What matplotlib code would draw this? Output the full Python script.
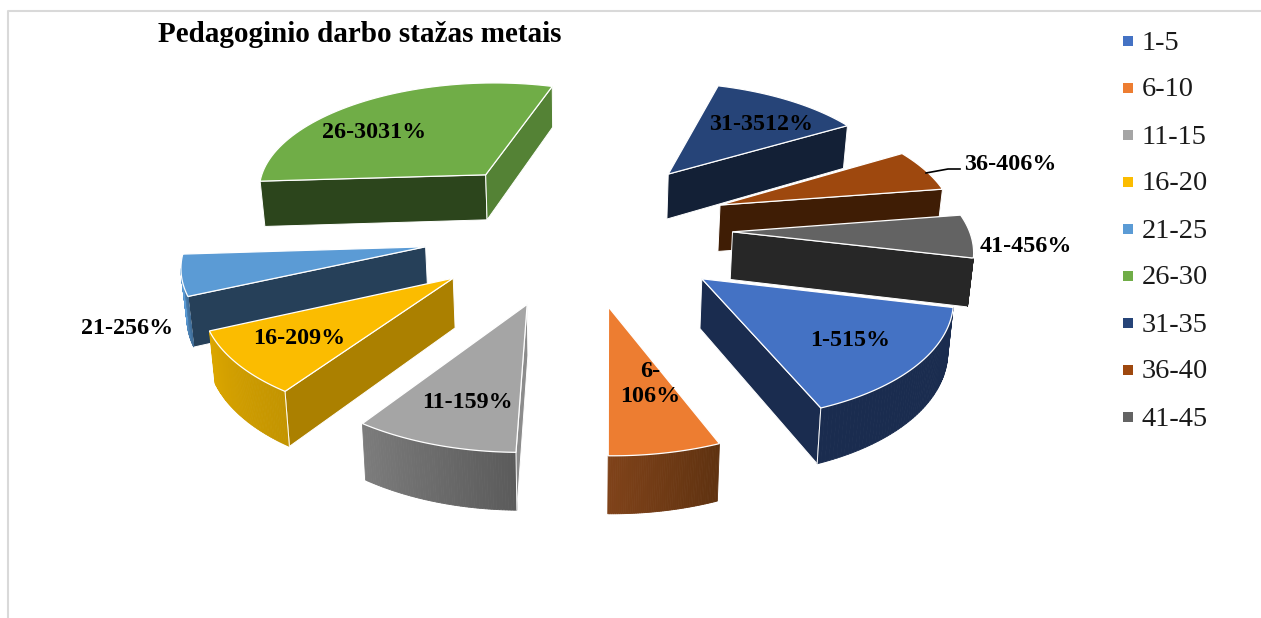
import numpy as np
import matplotlib
matplotlib.use('Agg')
import matplotlib.pyplot as plt
from matplotlib.colors import to_rgb

plt.rcParams['font.family'] = ['Liberation Serif', 'DejaVu Serif']

# Data
categories = ['1-5', '6-10', '11-15', '16-20', '21-25', '26-30', '31-35', '36-40', '41-45']
values = [15, 6, 9, 9, 6, 31, 12, 6, 6]
slice_labels = ['1-515%', '6-\n106%', '11-159%', '16-209%', '21-256%',
                '26-3031%', '31-3512%', '36-406%', '41-456%']
title = 'Pedagoginio darbo stažas metais'

# Colours: top, wall after the apex, wall back to the apex, arc right end, arc left end
top_colors = ['#4472C4', '#ED7D31', '#A5A5A5', '#FBBC00', '#5B9BD5', '#70AD47', '#264478', '#9E480E', '#636363']
start_walls = ['#1A2C4F', '#5F3210', '#8C8C8C', '#AB8000', '#264059', '#2C451C', '#132036', '#3F1D05', '#272727']
end_walls = ['#1A2C4F', '#7F4219', '#8C8C8C', '#AB8000', '#264059', '#548235', '#132036', '#3F1D05', '#272727']
arc_right = ['#1A2C4F', '#5F3210', '#5B5B5B', '#C39400', '#3F6C96', '#4E7A30', '#1A2F54', '#6E320A', '#272727']
arc_left = ['#1A2C4F', '#7F4219', '#7C7C7C', '#DBA600', '#5B9BD5', '#4E7A30', '#1A2F54', '#6E320A', '#272727']

# Projection of the exploded pie
cx, cy = 578, 229
scale_x, scale_y = 257, 123
persp = 0.12
explode = 0.6
radius = 0.92
depth = 47.5
first_angle = -13
base_shrink = 0.985
# the front left of the reference pie is turned a little further than the rest
skew = 3.5
skew_at = -125


def project(X, Y):
    w = 1 + persp * Y
    return cx + scale_x * X / w, cy - scale_y * Y / w, w


def base_point(sx, sy, w):
    return cx + (sx - cx) * base_shrink, sy + depth / w


def view_angle(deg):
    return np.radians(deg - skew * np.cos(np.radians(deg - skew_at)) ** 2 * (np.cos(np.radians(deg - skew_at)) > 0))


fig = plt.figure(figsize=(12.61, 6.18), dpi=100)
ax = fig.add_axes([0, 0, 1, 1])
ax.set_xlim(0, 1261)
ax.set_ylim(618, 0)
ax.axis('off')

# Chart frame
ax.plot([8, 8, 1261], [618, 11, 11], color='#D9D9D9', lw=1.5, zorder=1)

edges = np.cumsum([0] + values) / sum(values) * 360
mids = first_angle - (edges[:-1] + edges[1:]) / 2
far_first = np.argsort(-np.sin(np.radians(mids)))

z = 2
for i in far_first:
    t = view_angle(np.linspace(first_angle - edges[i], first_angle - edges[i + 1], 60))
    m = view_angle(mids[i])
    ax0 = explode * np.cos(m)
    ay0 = explode * np.sin(m)
    X = np.concatenate([[ax0], ax0 + radius * np.cos(t), [ax0]])
    Y = np.concatenate([[ay0], ay0 + radius * np.sin(t), [ay0]])
    sx, sy, w = project(X, Y)
    bx, by = base_point(sx, sy, w)

    # Radial walls, only those that face the viewer
    for a, b, col in [(0, 1, start_walls[i]), (60, 61, end_walls[i])]:
        if sx[b] < sx[a]:
            ax.fill([sx[a], sx[b], bx[b], bx[a]], [sy[a], sy[b], by[b], by[a]],
                    facecolor=col, edgecolor='white', lw=0.7, zorder=z)

    # Outer wall drawn in strips for the gradient
    seen = [k for k in range(1, 60) if sx[k + 1] < sx[k]]
    c0 = np.array(to_rgb(arc_right[i]))
    c1 = np.array(to_rgb(arc_left[i]))
    for n, k in enumerate(seen):
        col = c0 + (c1 - c0) * n / max(len(seen) - 1, 1)
        ax.fill([sx[k], sx[k + 1], bx[k + 1], bx[k]], [sy[k], sy[k + 1], by[k + 1], by[k]],
                facecolor=col, edgecolor=col, lw=0.6, zorder=z)

    # white seam where a visible arc meets a visible radial wall
    if seen and sx[seen[0]] - sx[seen[-1] + 1] > 10:
        if seen[0] == 1 and sx[1] < sx[0]:
            ax.plot([sx[1], bx[1]], [sy[1], by[1]], color='white', lw=0.7, zorder=z)
        if seen[-1] + 1 == 60 and sx[61] < sx[60]:
            ax.plot([sx[60], bx[60]], [sy[60], by[60]], color='white', lw=0.7, zorder=z)

    ax.fill(sx[:-1], sy[:-1], facecolor=top_colors[i], edgecolor='white', lw=0.9, zorder=z + 0.5)
    z += 1

# Slice labels
label_x = [850, 650, 467, 299, 127, 374, 761, 1010, 1026]
label_y = [340, 384, 402, 338, 329, 132, 124, 165, 247]
for i, lab in enumerate(slice_labels):
    ax.text(label_x[i], label_y[i], lab, ha='center', va='center', fontsize=17.3,
            fontweight='bold', linespacing=1.2, zorder=50)

# Leader line for 36-40
ax.plot([926, 948, 960], [173, 169, 169], color='black', lw=1.2, zorder=50)

ax.text(360, 35, title, ha='center', va='center', fontsize=21, fontweight='bold', zorder=50)

# Legend
for i, name in enumerate(categories):
    y = 41 + 47 * i
    ax.plot([1128], [y], marker='s', ms=6.5, mew=0, color=top_colors[i], zorder=50)
    ax.text(1142, y + 2, name, ha='left', va='center', fontsize=20.4, color='#1a1a1a', zorder=50)

fig.savefig('out.png', dpi=100)
